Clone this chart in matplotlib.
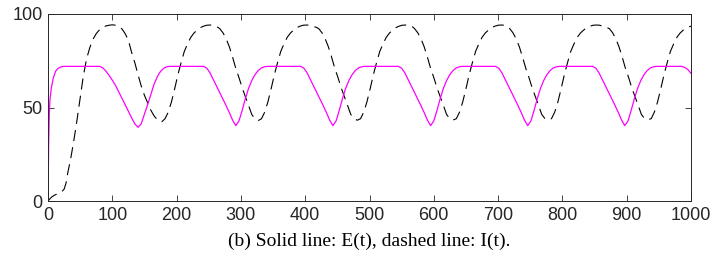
import matplotlib
matplotlib.use("Agg")
import matplotlib.pyplot as plt

# E(t): solid magenta line
E_t = [0, 1, 2, 3, 5, 8, 12, 16, 20, 25, 80,
       85, 90, 95, 100, 105, 110, 115, 120, 125, 130, 135, 140, 145, 150, 155, 160, 165, 170, 175, 180, 185, 190,
       242, 247, 252, 257, 262, 267, 272, 277, 282, 287, 292, 297, 302, 307, 312, 317, 322, 327, 332, 337, 342,
       393, 398, 403, 408, 413, 418, 423, 428, 433, 438, 443, 448, 453, 458, 463, 468, 473, 478, 483, 488, 493,
       545, 550, 555, 560, 565, 570, 575, 580, 585, 590, 595, 600, 605, 610, 615, 620, 625, 630, 635, 640, 645,
       696, 701, 706, 711, 716, 721, 726, 731, 736, 741, 746, 751, 756, 761, 766, 771, 776, 781, 786, 791, 796,
       847, 852, 857, 862, 867, 872, 877, 882, 887, 892, 897, 902, 907, 912, 917, 922, 927, 932, 937, 942, 947,
       985, 990, 995, 1000]
E_v = [0, 30, 46, 54, 60, 65.5, 69.5, 71, 71.7, 72, 72,
       71.3, 69.5, 67.2, 64.6, 61.8, 58.4, 55, 51.5, 48, 44.5, 41.3, 39.4, 41.3, 46.5, 51.5, 57, 62.5, 66.5, 69.3, 71, 71.8, 72,
       72, 71, 68.5, 65, 61.5, 58, 54.5, 51, 47.3, 43.3, 40.3, 42.8, 48.5, 54.8, 60.3, 64.5, 67.6, 69.8, 71.2, 71.8, 72,
       72, 71, 68.5, 65, 61.5, 58, 54.5, 51, 47.3, 43.3, 40.3, 42.8, 48.5, 54.8, 60.3, 64.5, 67.6, 69.8, 71.2, 71.8, 72,
       72, 71, 68.5, 65, 61.5, 58, 54.5, 51, 47.3, 43.3, 40.3, 42.8, 48.5, 54.8, 60.3, 64.5, 67.6, 69.8, 71.2, 71.8, 72,
       72, 71, 68.5, 65, 61.5, 58, 54.5, 51, 47.3, 43.3, 40.3, 42.8, 48.5, 54.8, 60.3, 64.5, 67.6, 69.8, 71.2, 71.8, 72,
       72, 71, 68.5, 65, 61.5, 58, 54.5, 51, 47.3, 43.3, 40.3, 42.8, 48.5, 54.8, 60.3, 64.5, 67.6, 69.8, 71.2, 71.8, 72,
       72, 71.5, 70.3, 68.3]

# I(t): dashed black line
I_t = [0, 3, 6, 10, 15, 19, 22, 25, 28, 31, 35, 40, 45, 50, 55, 60, 65, 70, 75, 80, 85, 90, 95, 100, 105, 110,
       115, 120, 125, 130, 135, 140, 145, 150, 155, 160, 165, 170, 174, 177,
       182, 187, 192, 197, 202, 207, 212, 217, 222, 227, 232, 237, 242, 247, 252, 257, 262,
       267, 272, 277, 282, 287, 292, 297, 302, 307, 312, 317, 322, 327,
       332, 337, 342, 347, 352, 357, 362, 367, 372, 377, 382, 387, 392, 397, 402, 407, 412, 417,
       421, 426, 431, 436, 441, 446, 451, 456, 461, 466, 471, 476, 481,
       486, 491, 496, 501, 506, 511, 516, 521, 526, 531, 536, 541, 546, 551, 556, 561, 566,
       570, 575, 580, 585, 590, 595, 600, 605, 610, 615, 620, 625, 630,
       635, 640, 645, 650, 655, 660, 665, 670, 675, 680, 685, 690, 695, 700, 705, 710, 714,
       718, 723, 728, 733, 738, 743, 748, 753, 758, 763, 768, 773, 778,
       783, 788, 793, 798, 803, 808, 813, 818, 823, 828, 833, 838, 843, 848, 853, 858, 863, 868,
       873, 878, 883, 888, 893, 898, 903, 908, 913, 918, 923, 928, 933,
       938, 943, 948, 953, 958, 963, 968, 973, 978, 983, 988, 993, 998, 1000]
I_v = [0, 1.2, 2.2, 3.1, 3.9, 4.5, 5.2, 6.3, 9.5, 15.5, 22, 32, 43, 55, 67, 76, 82, 86.5, 89.5, 91.5, 92.8, 93.6, 94, 94.2, 94, 93.3,
       92, 89.5, 86, 79.5, 74, 67.5, 61.5, 56.5, 52.5, 48.5, 45.5, 43.5, 42.6, 42.4,
       44, 47.5, 53, 60, 67.5, 74, 80, 84, 87.5, 89.8, 91.4, 92.7, 93.5, 94, 94.1, 94, 93.4,
       92.2, 90, 86.8, 82.5, 77, 71, 66, 60.5, 55.8, 51, 46.2, 44, 43,
       44, 47.5, 53, 60, 67.5, 74, 80, 84, 87.5, 89.8, 91.4, 92.7, 93.5, 94, 94.1, 94, 93.4, 92.9,
       92.2, 90, 86.8, 82.5, 77, 71, 66, 60.5, 55.8, 51, 46.2, 44, 43.2,
       44, 47.5, 53, 60, 67.5, 74, 80, 84, 87.5, 89.8, 91.4, 92.7, 93.5, 94, 94.1, 94, 93.4,
       92.2, 90, 86.8, 82.5, 77, 71, 66, 60.5, 55.8, 51, 46.2, 44, 43.3,
       44, 47.5, 53, 60, 67.5, 74, 80, 84, 87.5, 89.8, 91.4, 92.7, 93.5, 94, 94.1, 94, 93.3,
       92.2, 90, 86.8, 82.5, 77, 71, 66, 60.5, 55.8, 51, 46.2, 44, 43.5,
       44, 47.5, 53, 60, 67.5, 74, 80, 84, 87.5, 89.8, 91.4, 92.7, 93.5, 94, 94.1, 94, 93.4, 92.9,
       92.2, 90, 86.8, 82.5, 77, 71, 66, 60.5, 55.8, 51, 46.2, 44, 43.5,
       44, 47.5, 53, 60, 67.5, 74, 80, 84, 87.5, 89.8, 91.4, 92.7, 93.3, 93.5]

x_ticks = [0, 100, 200, 300, 400, 500, 600, 700, 800, 900, 1000]
y_ticks = [0, 50, 100]
caption = "(b) Solid line: E(t), dashed line: I(t)."

plt.rcParams['font.family'] = ['Liberation Sans', 'DejaVu Sans']
plt.rcParams['lines.scale_dashes'] = False

fig = plt.figure(figsize=(7.13, 2.63), dpi=100)
ax = fig.add_axes([48/713, 1-201/263, (691-48)/713, (201-14)/263])

ax.plot(I_t, I_v, color='black', lw=0.8, linestyle=(0, (8, 4.5)))
ax.plot(E_t, E_v, color='#FF00FF', lw=0.9)

ax.set_xlim(0, 1000)
ax.set_ylim(0, 100)
ax.set_xticks(x_ticks)
ax.set_yticks(y_ticks)
ax.tick_params(direction='in', top=True, right=True, length=4, width=0.6,
               colors='#262626', labelsize=13, pad=4)
for s in ax.spines.values():
    s.set_color('#262626')
    s.set_linewidth(0.7)

fig.text((48+691)/2/713, 1-241/263, caption, ha='center', va='center',
         fontfamily='Liberation Serif', fontsize=14, color='black')

fig.savefig('out.png', dpi=100)
